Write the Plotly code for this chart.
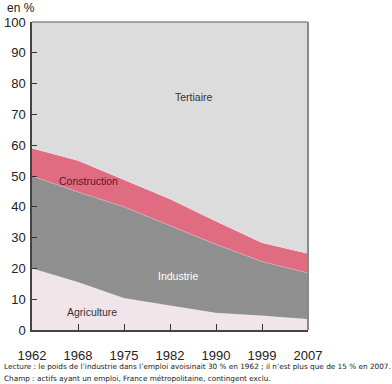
import plotly.graph_objects as go

years = ["1962", "1968", "1975", "1982", "1990", "1999", "2007"]
agriculture = [20.0, 15.5, 10.3, 7.8, 5.5, 4.6, 3.5]
industrie = [30.0, 29.3, 29.7, 26.2, 22.3, 17.6, 15.0]
construction = [9.0, 10.2, 8.8, 8.5, 7.5, 6.1, 6.3]
tertiaire = [round(100 - a - i - c, 1) for a, i, c in zip(agriculture, industrie, construction)]

y_ticks = [0, 10, 20, 30, 40, 50, 60, 70, 80, 90, 100]

FONT = "Liberation Sans, Arial, Helvetica, sans-serif"
x = list(range(len(years)))

series = [
    ("Agriculture", agriculture, "#f1e5e9"),
    ("Industrie", industrie, "#8f8f8f"),
    ("Construction", construction, "#e06c82"),
    ("Tertiaire", tertiaire, "#dcdcdc"),
]

fig = go.Figure()
for name, vals, col in series:
    fig.add_trace(go.Scatter(
        x=x, y=vals, name=name, stackgroup="one", mode="lines",
        line=dict(width=0.6, color="rgba(255,255,255,0.35)"),
        fillcolor=col, hoverinfo="skip"))

fig.update_layout(
    width=392, height=384,
    margin=dict(l=32, r=84, t=22, b=54, autoexpand=False),
    paper_bgcolor="white", plot_bgcolor="white",
    showlegend=False,
    font=dict(family=FONT, color="#222222", size=12),
    xaxis=dict(range=[0, 6], tickvals=x, ticktext=years, ticks="inside",
               ticklen=6, tickcolor="#333", showgrid=False, zeroline=False,
               showline=True, linecolor="#444", linewidth=1.5, automargin=False,
               ticklabelstandoff=13, tickfont=dict(size=13, family=FONT)),
    yaxis=dict(range=[0, 100], tickvals=y_ticks, ticks="inside", ticklen=5,
               tickcolor="#333", showgrid=False, zeroline=False, showline=True,
               linecolor="#444", linewidth=1.5, ticklabelstandoff=2, automargin=False,
               tickfont=dict(size=13, family=FONT)),
)

# top and right frame lines (lighter)
fig.add_shape(type="line", xref="paper", yref="paper", x0=0, x1=1, y0=1, y1=1,
              line=dict(color="#8a8a8a", width=1.5))
fig.add_shape(type="line", xref="paper", yref="paper", x0=1, x1=1, y0=0, y1=1,
              line=dict(color="#8a8a8a", width=2))

labels = [
    ("Tertiaire", 3.52, 75.6, "#333333"),
    ("Construction", 1.23, 48.5, "#5a1424"),
    ("Industrie", 3.17, 17.6, "#ffffff"),
    ("Agriculture", 1.30, 5.8, "#333333"),
]
for txt, lx, ly, col in labels:
    fig.add_annotation(x=lx, y=ly, text=txt, showarrow=False,
                       font=dict(size=10.5, color=col, family=FONT))

fig.add_annotation(xref="paper", yref="paper", x=-27/276, y=1 + 14/308,
                   xanchor="left", yanchor="middle", text="en %", showarrow=False,
                   font=dict(size=12, color="#222", family=FONT))

cap_font = dict(size=7.3, color="#222", family="DejaVu Sans, Verdana, sans-serif")
fig.add_annotation(xref="paper", yref="paper", x=-30/276, y=-36/308,
                   xanchor="left", yanchor="middle", showarrow=False,
                   text="Lecture : le poids de l\u2019industrie dans l\u2019emploi avoisinait 30 % en 1962 ; il n\u2019est plus que de 15 % en 2007.",
                   font=cap_font)
fig.add_annotation(xref="paper", yref="paper", x=-30/276, y=-48/308,
                   xanchor="left", yanchor="middle", showarrow=False,
                   text="Champ : actifs ayant un emploi, France m\u00e9tropolitaine, contingent exclu.",
                   font=cap_font)

fig.write_html("out.html", config={"displayModeBar": False},
               post_script="document.body.style.margin='0';")
